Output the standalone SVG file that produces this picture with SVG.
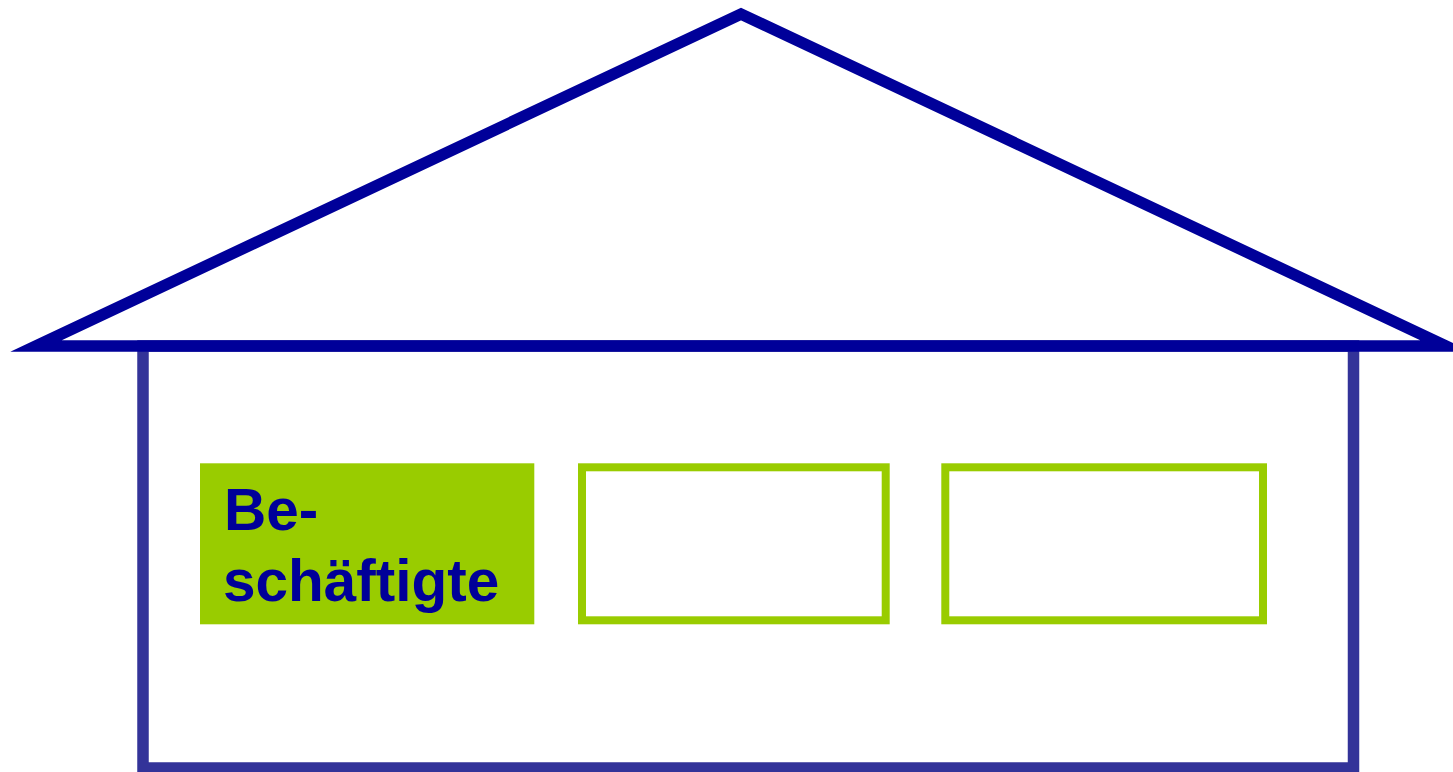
<svg xmlns="http://www.w3.org/2000/svg" width="1453" height="772" viewBox="0 0 1453 772">
<style>
.box{fill:#fff;stroke:#99CC00;stroke-width:8}
.lbl{font-family:"Liberation Sans",Arial,sans-serif;font-weight:bold;font-size:58.5px;fill:#000099}
</style>
<rect width="1453" height="772" fill="#fff"/>
<g id="body"><rect x="143" y="346" width="1210.5" height="422" fill="none" stroke="#333399" stroke-width="11.5"/></g>
<g id="roof"><polygon points="36,346 741,14 1446,346" fill="none" stroke="#000099" stroke-width="11.5" stroke-miterlimit="10"/></g>
<g id="node1">
<rect x="200" y="463.3" width="334.3" height="161" fill="#99CC00"/>
<text class="lbl" x="224" y="530">Be-</text>
<text class="lbl" x="223" y="601">schäftigte</text>
</g>
<g id="node2"><rect class="box" x="582" y="467.3" width="303.7" height="153"/></g>
<g id="node3"><rect class="box" x="945.3" y="467.3" width="317.7" height="153"/></g>
<g id="connectors"/>
</svg>
